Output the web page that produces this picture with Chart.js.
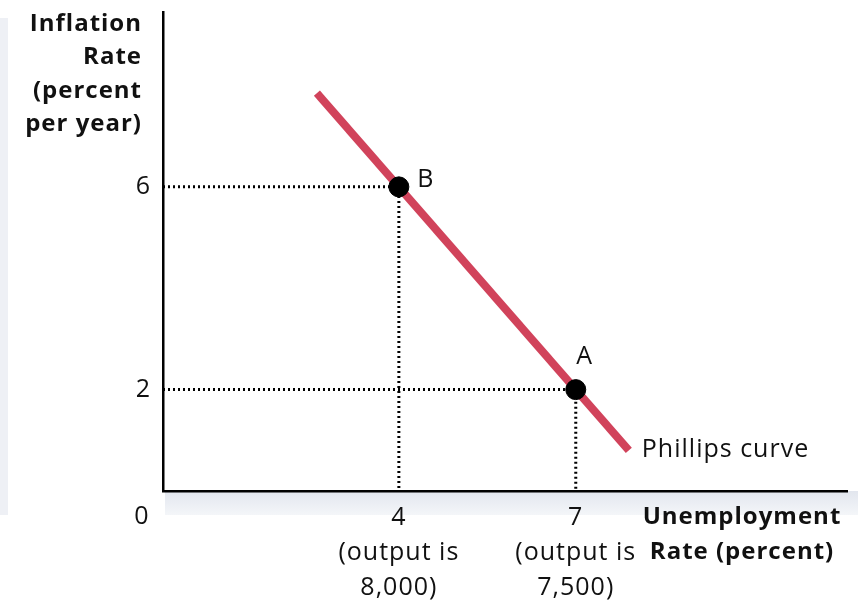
<!DOCTYPE html>
<html>
<head>
<meta charset="utf-8">
<script src="https://cdn.jsdelivr.net/npm/chart.js@4"></script>
<style>
  html, body { margin: 0; padding: 0; background: #fff; }
  #wrap { width: 858px; height: 610px; }
</style>
</head>
<body>
<div id="wrap"><canvas id="myChart"></canvas></div>
<script>
// data
const curveX = [2.61, 7.9];
const curveY = [7.85, 0.8];
const pointNames = ["B", "A"];
const pointX = [4, 7];
const pointY = [6, 2];
const xTicks = [4, 7];
const xTickLabels = [["4", "(output is", "8,000)"], ["7", "(output is", "7,500)"]];
const yTicks = [2, 6];
const yTitle = ["Inflation", "Rate", "(percent", "per year)"];
const xTitle = ["Unemployment", "Rate (percent)"];
const curveName = "Phillips curve";

const FONT = "'Open Sans', sans-serif";
const RED = "#d1435b";

// dotted guide lines: (0,y) -> (x,y) -> (x,0)
const guides = pointX.map((x, i) => ({
    data: [{x: 0, y: pointY[i]}, {x: x, y: pointY[i]}, {x: x, y: 0}],
    showLine: true,
    borderColor: "#000",
    borderWidth: 3,
    borderDash: [2, 3],
    pointRadius: 0,
    order: 3,
}));

const data = {
    datasets: [
        ...guides,
        {
            data: curveX.map((x, i) => ({x: x, y: curveY[i]})),
            showLine: true,
            borderColor: RED,
            borderWidth: 8,
            borderCapStyle: "butt",
            pointRadius: 0,
            order: 2,
        },
        {
            data: pointX.map((x, i) => ({x: x, y: pointY[i]})),
            backgroundColor: "#000",
            borderColor: "#000",
            pointRadius: 10,
            pointHoverRadius: 10,
            order: 1,
        },
    ],
};

// shadows, titles and point names
const extras = {
    id: "extras",
    beforeDraw(chart) {
        const {ctx, chartArea} = chart;
        ctx.save();
        ctx.fillStyle = "#eef0f5";
        ctx.fillRect(0, chartArea.top + 6, 8, chartArea.bottom + 24 - chartArea.top - 6);
        const g = ctx.createLinearGradient(0, chartArea.bottom, 0, chartArea.bottom + 24);
        g.addColorStop(0, "#e2e6ee");
        g.addColorStop(1, "#f4f6f9");
        ctx.fillStyle = g;
        ctx.fillRect(chartArea.left + 2, chartArea.bottom, chart.width - chartArea.left, 24);
        ctx.restore();
        // a little wider text, closer to the original face
        ctx.letterSpacing = "1px";
    },
    afterDraw(chart) {
        const {ctx, chartArea} = chart;
        const xs = chart.scales.x, ys = chart.scales.y;
        ctx.save();
        ctx.fillStyle = "#111";
        ctx.textBaseline = "middle";
        ctx.font = "bold 24px " + FONT;
        ctx.letterSpacing = "1px";
        ctx.textAlign = "right";
        yTitle.forEach((t, i) => ctx.fillText(t, chartArea.left - 21, 24 + i * 33.5));
        ctx.textAlign = "center";
        xTitle.forEach((t, i) => ctx.fillText(t, 742, ys.getPixelForValue(0) + 26 + i * 35));
        ctx.font = "25px " + FONT;
        ctx.fillText("0", chartArea.left - 21, ys.getPixelForValue(0) + 26);
        pointNames.forEach((n, i) => {
            const px = xs.getPixelForValue(pointX[i]);
            const py = ys.getPixelForValue(pointY[i]);
            if (n === "A") ctx.fillText(n, px + 9, py - 33);
            else ctx.fillText(n, px + 27, py - 7);
        });
        ctx.textAlign = "left";
        const ex = xs.getPixelForValue(curveX[1]);
        const ey = ys.getPixelForValue(curveY[1]);
        ctx.fillText(curveName, ex + 13, ey - 1);
        ctx.restore();
    },
};

const config = {
    type: "scatter",
    data,
    options: {
        responsive: true,
        maintainAspectRatio: false,
        animation: false,
        events: [],
        layout: {padding: {top: 12, right: 3, left: 0, bottom: 0}},
        plugins: {
            legend: {display: false},
            tooltip: {enabled: false},
        },
        scales: {
            x: {
                type: "linear",
                min: 0,
                max: 11.6,
                grid: {display: false, drawTicks: false},
                border: {display: true, color: "#000", width: 2.5},
                afterBuildTicks: (s) => { s.ticks = xTicks.map((v) => ({value: v})); },
                afterFit: (s) => { s.height = 119; s.paddingLeft = 0; s.paddingRight = 0; },
                ticks: {
                    padding: 9,
                    color: "#111",
                    font: {family: FONT, size: 25, lineHeight: 1.4},
                    maxRotation: 0,
                    autoSkip: false,
                    callback: (v) => xTickLabels[xTicks.indexOf(v)],
                },
            },
            y: {
                type: "linear",
                min: 0,
                max: 9.45,
                grid: {display: false, drawTicks: false},
                border: {display: true, color: "#000", width: 2.5},
                afterBuildTicks: (s) => { s.ticks = yTicks.map((v) => ({value: v})); },
                afterFit: (s) => { s.width = 163; s.paddingTop = 0; s.paddingBottom = 0; },
                ticks: {
                    padding: 12,
                    color: "#111",
                    font: {family: FONT, size: 25},
                    callback: (v) => String(v),
                },
            },
        },
    },
    plugins: [extras],
};

const ctx = document.getElementById("myChart").getContext("2d");
new Chart(ctx, config);
</script>
</body>
</html>
